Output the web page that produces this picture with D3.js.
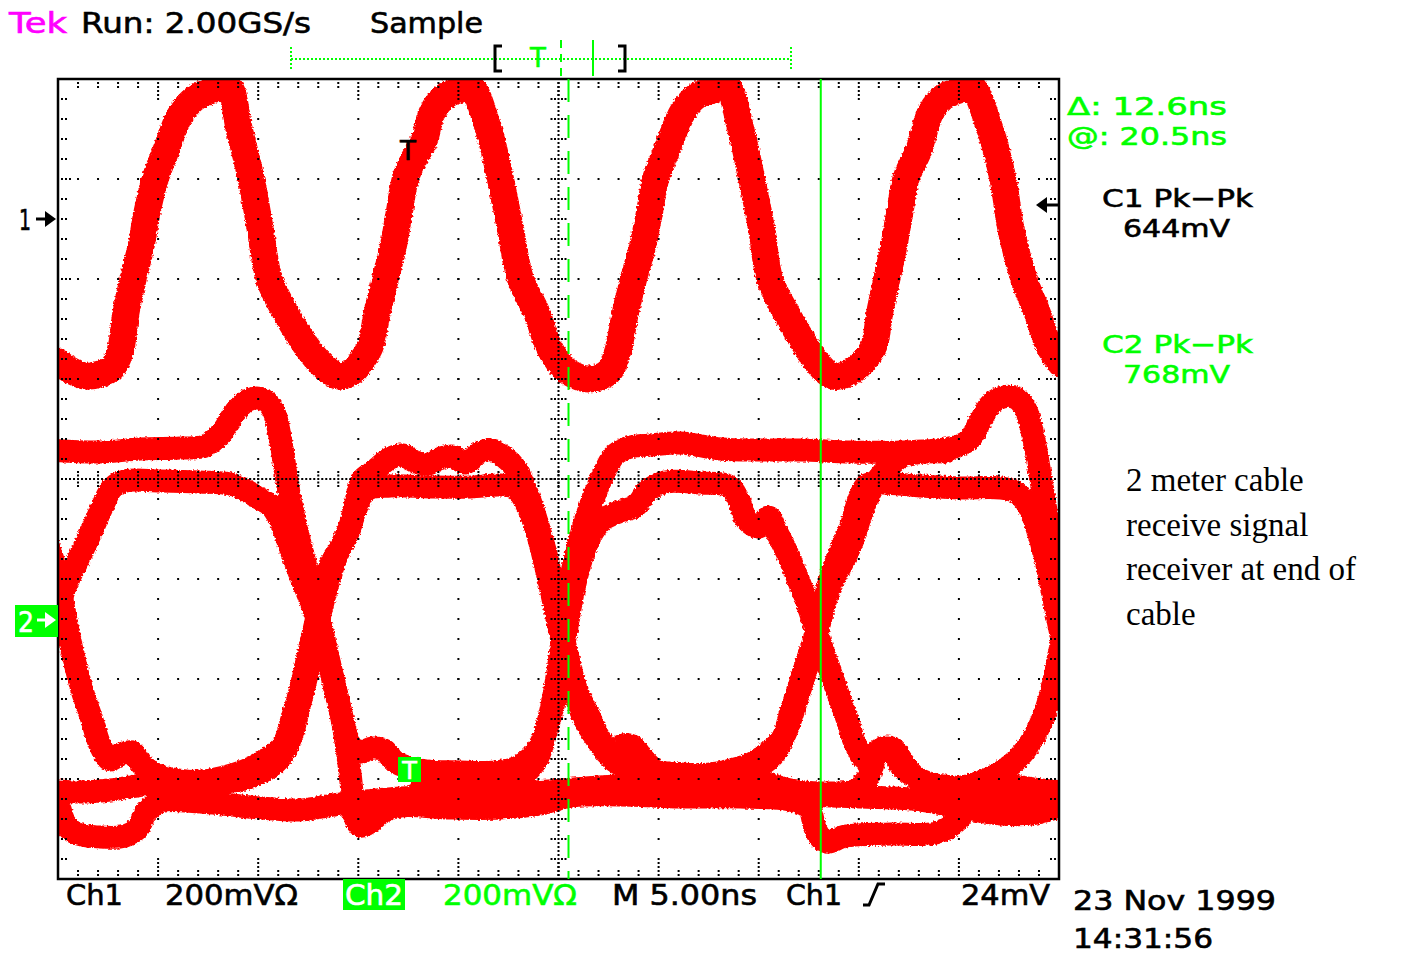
<!DOCTYPE html>
<html>
<head>
<meta charset="utf-8">
<script src="https://cdn.jsdelivr.net/npm/d3@7"></script>
<style>
  body { margin: 0; background: #fff; }
  svg { display: block; }
</style>
</head>
<body>
<svg id="scope" width="1403" height="954"></svg>
<script>
// Ch1 : clock-like waveform, [time ns, mV] (200 mV/div, ground at marker "1")
const ch1Trace = [[-0.4,-280],[0,-286],[0.6,-302],[1.35,-314],[2.1,-310],[2.7,-298],[3.1,-266],[3.4,-186],[3.75,-120],[4.15,-54],[4.45,14],[4.85,80],[5.4,138],[6.1,208],[6.85,242],[7.7,258],[8.5,266],[9.05,180],[9.65,80],[10.1,-20],[10.55,-120],[11.35,-186],[12.4,-254],[13.2,-292],[14.0,-314],[14.7,-306],[15.2,-282],[15.6,-254],[15.95,-186],[16.35,-120],[16.75,-54],[17.05,14],[17.35,80],[17.8,122],[18.3,158],[18.7,214],[19.35,246],[20.0,258],[20.6,266],[21.5,180],[22.1,80],[22.6,-20],[23.1,-120],[23.9,-186],[24.5,-254],[25.0,-286],[25.5,-306],[26.5,-320],[27.5,-306],[27.95,-266],[28.35,-186],[28.75,-120],[29.2,-54],[29.55,14],[29.85,80],[30.45,142],[31.2,214],[31.9,246],[32.7,258],[33.4,266],[34.1,180],[34.65,80],[35.15,-20],[35.55,-120],[36.35,-186],[37.35,-254],[37.9,-286],[38.7,-314],[39.5,-308],[40.2,-286],[40.75,-254],[41.05,-186],[41.4,-120],[41.75,-54],[42.05,14],[42.35,80],[43.0,138],[43.6,214],[44.3,246],[45.0,258],[45.6,266],[46.55,180],[47.2,80],[47.6,-20],[48.25,-120],[48.9,-186],[49.5,-254],[50.1,-290]];

// Ch2 : received signal, several overlaid sweeps (eye pattern), [time ns, mV]
const sweepA = [[-0.5,338],[2.1,334],[4.1,340],[6.1,342],[7.35,346],[8.2,374],[8.85,414],[9.5,438],[10.2,440],[10.75,418],[11.1,362],[11.35,298],[11.65,228],[12.05,158],[12.5,88],[12.95,18],[13.35,-52],[13.75,-122],[14.15,-192],[14.45,-262],[14.65,-332],[14.8,-392],[15.1,-414],[15.6,-406],[16.2,-386],[17.1,-374],[19.6,-378],[22.1,-378],[24.1,-370],[25.6,-354],[28.1,-352],[31.1,-356],[34.1,-356],[36.6,-362],[37.5,-378],[37.85,-422],[38.35,-446],[39.35,-434],[41.6,-430],[43.85,-428],[44.85,-406],[45.6,-372],[47.1,-362],[48.6,-358],[50.35,-358]];
const sweepB = [[-0.4,-42],[0,18],[0.4,68],[1.0,118],[1.7,178],[2.25,228],[2.7,262],[3.35,276],[5.1,276],[7.1,274],[8.6,270],[9.35,258],[10.0,242],[10.6,228],[11.1,198],[11.6,142],[12.1,88],[12.6,38],[13.0,-6],[13.4,-66],[13.8,-132],[14.2,-198],[14.6,-252],[15.1,-266],[15.7,-258],[16.3,-262],[16.85,-286],[18.1,-302],[20.1,-306],[21.85,-306],[22.85,-298],[23.6,-278],[24.2,-242],[24.6,-186],[24.9,-122],[25.15,-52],[25.4,18],[25.65,88],[26.0,148],[26.35,198],[26.8,248],[27.3,294],[27.8,328],[28.6,344],[29.6,348],[31.1,352],[33.1,340],[35.1,338],[37.1,338],[39.6,334],[42.1,334],[44.6,342],[45.5,358],[46.1,398],[46.6,430],[47.2,444],[47.85,442],[48.35,418],[48.75,358],[49.1,278],[49.5,178],[49.85,78],[50.2,-12]];
const sweepC = [[-0.5,-342],[1.1,-346],[2.6,-342],[4.6,-330],[6.1,-326],[7.6,-322],[8.85,-310],[9.85,-294],[10.6,-276],[11.25,-252],[11.7,-198],[12.1,-142],[12.5,-72],[12.9,-2],[13.25,58],[13.6,108],[14.1,142],[14.6,188],[14.9,238],[15.2,278],[15.85,298],[16.6,322],[17.2,328],[17.85,314],[18.5,310],[19.1,322],[19.7,326],[20.35,312],[21.1,334],[21.7,338],[22.35,322],[22.85,302],[23.2,274],[23.6,234],[24.0,184],[24.4,126],[24.75,58],[25.1,-12],[25.5,-82],[25.9,-142],[26.5,-192],[27.1,-242],[27.7,-266],[28.2,-252],[28.7,-254],[29.2,-278],[29.85,-302],[31.1,-310],[32.6,-310],[33.6,-302],[34.6,-290],[35.5,-266],[36.2,-238],[36.6,-186],[37.0,-138],[37.4,-86],[37.8,-38],[38.2,18],[38.5,72],[39.0,128],[39.6,184],[40.0,238],[40.4,268],[41.1,272],[43.1,266],[45.1,262],[47.1,262],[47.85,254],[48.45,228],[48.9,182],[49.3,126],[49.65,58],[50.0,-12],[50.3,-72]];
const sweepD = [[-0.5,148],[-0.1,98],[0.3,18],[0.7,-62],[1.2,-142],[1.7,-202],[2.1,-252],[2.6,-282],[3.1,-270],[3.7,-266],[4.2,-292],[5.1,-314],[7.1,-326],[9.1,-322],[10.2,-306],[11.0,-282],[11.6,-242],[12.0,-182],[12.4,-118],[12.8,-42],[13.2,28],[13.6,88],[14.0,134],[14.5,174],[14.9,222],[15.4,258],[16.6,266],[18.6,264],[20.6,264],[22.1,268],[22.85,262],[23.35,234],[23.85,184],[24.25,124],[24.65,54],[25.0,-12],[25.35,-72],[25.7,-132],[26.2,-192],[27.0,-246],[27.85,-286],[29.1,-306],[31.1,-318],[33.1,-318],[35.1,-326],[36.6,-342],[38.1,-348],[39.85,-342],[40.5,-314],[41.0,-262],[41.7,-258],[42.2,-286],[43.1,-326],[44.6,-338],[46.35,-322],[47.6,-292],[48.5,-252],[49.2,-198],[49.7,-132],[50.0,-72],[50.3,-12]];
const sweepE = [[18.1,-342],[21.1,-338],[22.85,-322],[23.85,-286],[24.4,-222],[24.8,-162],[25.1,-92],[25.4,-22],[25.7,48],[26.1,114],[26.6,166],[27.2,198],[28.0,214],[28.85,226],[29.5,258],[30.35,274],[32.1,272],[33.5,266],[34.0,238],[34.4,198],[35.0,184],[35.5,204],[35.9,174],[36.4,134],[36.9,86],[37.4,34],[37.9,-26],[38.4,-86],[38.9,-142],[39.4,-198],[39.85,-252],[40.35,-282],[41.0,-266],[41.6,-262],[42.2,-298],[43.35,-326],[45.6,-338],[47.6,-334],[49.1,-342],[50.35,-346]];
const sweepF = [[33.1,-314],[34.6,-302],[35.7,-274],[36.4,-222],[36.9,-162],[37.4,-98],[37.85,-38],[38.2,18],[38.6,68],[39.2,114],[39.7,158],[40.1,208],[40.5,248],[41.0,282],[41.6,308],[42.2,326],[43.35,334],[44.35,334]];
const sweepG = [[-0.65,-358],[0,-372],[0.3,-406],[0.85,-428],[2.1,-436],[3.35,-434],[4.0,-418],[4.4,-386],[5.1,-366],[7.1,-366],[10.1,-378],[12.1,-382],[14.1,-370],[17.1,-358],[21.1,-354],[25.1,-342],[28.1,-334],[32.1,-342],[35.1,-348],[37.1,-352],[40.1,-356],[43.1,-362],[45.1,-378],[47.1,-390],[48.6,-390],[50.35,-372]];
const ch2Sweeps = [sweepA, sweepB, sweepC, sweepD, sweepE, sweepF, sweepG];

// cursor positions (ns from left edge of screen)
const cursorTimes = [25.5, 38.1];

// texts
const statusLabels = ['Tek', 'Run: 2.00GS/s', 'Sample'];
const cursorReadouts = ['\u0394: 12.6ns', '@: 20.5ns'];
const ch1Measure = ['C1 Pk\u2212Pk', '644mV'];
const ch2Measure = ['C2 Pk\u2212Pk', '768mV'];
const scaleLabels = ['Ch1', '200mV\u03a9', 'Ch2', '200mV\u03a9', 'M 5.00ns', 'Ch1', '24mV'];
const dateLabels = ['23 Nov 1999', '14:31:56'];
const noteLines = ['2 meter cable', 'receive signal', 'receiver at end of', 'cable'];

const GREEN = '#00ff00';
const RED = '#ff0000';
const TEK_FONT = '"DejaVu Sans", Verdana, sans-serif';

const svg = d3.select('#scope');
const plot = { left: 58, right: 1059, top: 79, bottom: 879 };

const x = d3.scaleLinear().domain([0, 50]).range([plot.left, plot.right]);
const yCh1 = d3.scaleLinear().domain([-1320, 280]).range([plot.bottom, plot.top]);
const yCh2 = d3.scaleLinear().domain([-520, 1080]).range([plot.bottom, plot.top]);
const xDiv = d3.scaleLinear().domain([0, 10]).range([plot.left, plot.right]);
const yDiv = d3.scaleLinear().domain([-4, 4]).range([plot.bottom, plot.top]);

const defs = svg.append('defs');
defs.append('clipPath').attr('id', 'screen')
  .append('rect')
  .attr('x', plot.left).attr('y', plot.top)
  .attr('width', plot.right - plot.left).attr('height', plot.bottom - plot.top);

// ragged edges like the phosphor dots
const rough = defs.append('filter').attr('id', 'rough')
  .attr('x', '-2%').attr('y', '-2%').attr('width', '104%').attr('height', '104%');
rough.append('feTurbulence').attr('type', 'fractalNoise').attr('baseFrequency', 0.45)
  .attr('numOctaves', 2).attr('seed', 3).attr('result', 'noise');
rough.append('feDisplacementMap').attr('in', 'SourceGraphic').attr('in2', 'noise')
  .attr('scale', 4).attr('xChannelSelector', 'R').attr('yChannelSelector', 'G');

// traces
const traces = svg.append('g').attr('clip-path', 'url(#screen)')
  .append('g').attr('filter', 'url(#rough)')
  .attr('fill', 'none').attr('stroke', RED)
  .attr('stroke-linejoin', 'round').attr('stroke-linecap', 'round');

const line1 = d3.line().x(d => x(d[0])).y(d => yCh1(d[1])).curve(d3.curveCatmullRom.alpha(0.5));
const line2 = d3.line().x(d => x(d[0])).y(d => yCh2(d[1])).curve(d3.curveCatmullRom.alpha(0.5));

traces.append('path').attr('stroke-width', 27).attr('d', line1(ch1Trace));
traces.selectAll('path.sweep').data(ch2Sweeps).join('path')
  .attr('class', 'sweep').attr('stroke-width', 23).attr('d', line2);

// graticule dots
const dots = [];
for (let i = 1; i < 10; i++) {
  if (i === 5) continue;
  for (let k = 1; k < 40; k++) dots.push([xDiv(i), yDiv(-4 + k * 0.2)]);
}
for (let j = -3; j <= 3; j++) {
  if (j === 0) continue;
  for (let k = 1; k < 50; k++) dots.push([xDiv(k * 0.2), yDiv(j)]);
}
for (let k = 1; k < 200; k++) {
  const yy = yDiv(-4 + k * 0.04);
  dots.push([xDiv(5), yy]);
  if (k % 5 === 0) [-7, -3.5, 3.5, 7].forEach(o => dots.push([xDiv(5) + o, yy]));
}
for (let k = 1; k < 250; k++) {
  const xx = xDiv(k * 0.04);
  dots.push([xx, yDiv(0)]);
  if (k % 5 === 0) [-7, -3.5, 3.5, 7].forEach(o => dots.push([xx, yDiv(0) + o]));
}
for (let k = 1; k < 50; k++) {
  const xx = xDiv(k * 0.2);
  const offs = k % 5 === 0 ? [4, 8, 12, 16] : [4, 8];
  offs.forEach(o => { dots.push([xx, plot.top + o]); dots.push([xx, plot.bottom - o]); });
}
for (let k = 1; k < 40; k++) {
  const yy = yDiv(-4 + k * 0.2);
  const offs = k % 5 === 0 ? [4, 8, 12] : [4, 8];
  offs.forEach(o => { dots.push([plot.left + o, yy]); dots.push([plot.right - o, yy]); });
}
svg.append('g').attr('fill', '#000')
  .selectAll('rect').data(dots).join('rect')
  .attr('x', d => d[0] - 1).attr('y', d => d[1] - 1)
  .attr('width', 2).attr('height', 2);

svg.append('rect')
  .attr('x', plot.left).attr('y', plot.top)
  .attr('width', plot.right - plot.left).attr('height', plot.bottom - plot.top)
  .attr('fill', 'none').attr('stroke', '#000').attr('stroke-width', 2.5);

// cursors
svg.selectAll('line.cursor').data(cursorTimes).join('line')
  .attr('class', 'cursor')
  .attr('x1', d => x(d)).attr('x2', d => x(d))
  .attr('y1', plot.top).attr('y2', plot.bottom)
  .attr('stroke', GREEN).attr('stroke-width', 2)
  .attr('stroke-dasharray', (d, i) => i === 0 ? '23 13' : null);

function label(str, px, py, opts = {}) {
  const fill = opts.fill || '#000';
  const t = svg.append('text')
    .attr('x', px).attr('y', py)
    .attr('font-family', opts.family || TEK_FONT)
    .attr('font-size', opts.size || 28)
    .attr('fill', fill)
    .text(str);
  if (!opts.family) t.attr('stroke', fill).attr('stroke-width', 0.6);
  if (opts.len) t.attr('textLength', opts.len).attr('lengthAdjust', 'spacingAndGlyphs');
  if (opts.anchor) t.attr('text-anchor', opts.anchor);
  return t;
}

function arrow(x1, x2, cy, color) {
  const dir = Math.sign(x2 - x1);
  svg.append('line').attr('x1', x1).attr('x2', x2 - dir * 8).attr('y1', cy).attr('y2', cy)
    .attr('stroke', color).attr('stroke-width', 3);
  svg.append('path')
    .attr('d', `M${x2},${cy} L${x2 - dir * 11},${cy - 8} L${x2 - dir * 11},${cy + 8} Z`)
    .attr('fill', color);
}

// status line
label(statusLabels[0], 9, 33, { fill: '#ff00ff', len: 58 });
label(statusLabels[1], 81, 33, { len: 230 });
label(statusLabels[2], 370, 33, { len: 113 });

// record indicator
const rec = svg.append('g');
rec.append('line').attr('x1', 291).attr('x2', 791).attr('y1', 59).attr('y2', 59)
  .attr('stroke', GREEN).attr('stroke-width', 2).attr('stroke-dasharray', '2 2');
[291, 791].forEach(px => rec.append('line').attr('x1', px).attr('x2', px).attr('y1', 47).attr('y2', 71)
  .attr('stroke', GREEN).attr('stroke-width', 2).attr('stroke-dasharray', '2 2'));
rec.append('path').attr('d', 'M502,46 H495 V71 H502 M618,46 H625 V71 H618')
  .attr('fill', 'none').attr('stroke', '#000').attr('stroke-width', 3);
label('T', 530, 67, { fill: GREEN, size: 26 });
rec.append('line').attr('x1', 561).attr('x2', 561).attr('y1', 40).attr('y2', 78)
  .attr('stroke', GREEN).attr('stroke-width', 2).attr('stroke-dasharray', '8 6');
rec.append('line').attr('x1', 593).attr('x2', 593).attr('y1', 40).attr('y2', 76)
  .attr('stroke', GREEN).attr('stroke-width', 2);

// channel markers
label('1', 19, 230, { len: 12 });
arrow(36, 56, 219, '#000');
svg.append('rect').attr('x', 15).attr('y', 605).attr('width', 43).attr('height', 32).attr('fill', GREEN);
label('2', 18, 632, { fill: '#fff', len: 16 });
arrow(37, 56, 620, '#fff');
arrow(1058, 1036, 205, '#000');
label('T', 400, 160, { size: 26 });
svg.append('rect').attr('x', 398).attr('y', 757).attr('width', 23).attr('height', 25).attr('fill', GREEN);
label('T', 409.5, 779, { fill: '#fff', size: 24, anchor: 'middle' });

// readouts
label(cursorReadouts[0], 1067, 115, { fill: GREEN, size: 25, len: 160 });
label(cursorReadouts[1], 1067, 145, { fill: GREEN, size: 25, len: 160 });
label(ch1Measure[0], 1102, 207, { size: 25, len: 151 });
label(ch1Measure[1], 1123, 237, { size: 25, len: 107 });
label(ch2Measure[0], 1102, 353, { fill: GREEN, size: 25, len: 151 });
label(ch2Measure[1], 1123, 383, { fill: GREEN, size: 25, len: 107 });

// bottom scale line
label(scaleLabels[0], 66, 905, { len: 57 });
label(scaleLabels[1], 165, 905, { len: 133 });
svg.append('rect').attr('x', 343).attr('y', 879).attr('width', 62).attr('height', 31).attr('fill', GREEN);
label(scaleLabels[2], 345, 905, { fill: '#fff', len: 58 });
label(scaleLabels[3], 443, 905, { fill: GREEN, len: 134 });
label(scaleLabels[4], 612, 905, { len: 145 });
label(scaleLabels[5], 786, 905, { len: 56 });
svg.append('path').attr('d', 'M863,905 H869 L878,884 H885')
  .attr('fill', 'none').attr('stroke', '#000').attr('stroke-width', 3);
label(scaleLabels[6], 961, 905, { len: 89 });
label(dateLabels[0], 1073, 910, { size: 26, len: 203 });
label(dateLabels[1], 1073, 948, { size: 26, len: 140 });

// annotation
noteLines.forEach((s, i) => label(s, 1126, 491 + i * 44.5, {
  family: '"Liberation Serif", "Times New Roman", serif', size: 33
}));
</script>
</body>
</html>
